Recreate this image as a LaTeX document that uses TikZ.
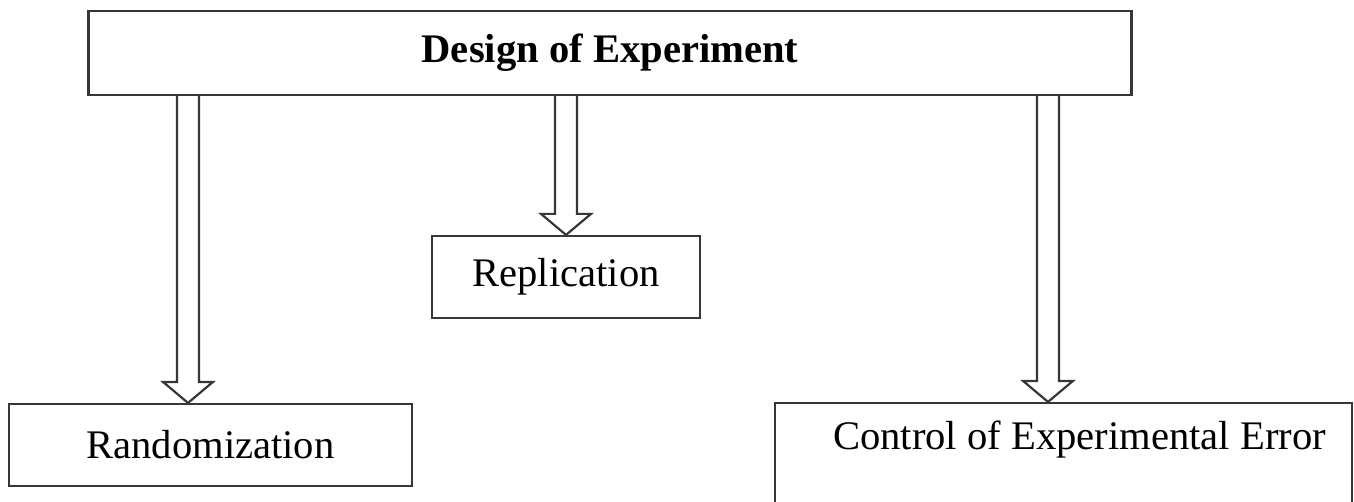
\documentclass[tikz,border=0pt]{standalone}
\usepackage{fontspec}
\setmainfont{Liberation Serif}
\usepackage{tikz}
\usetikzlibrary{positioning,calc}
\definecolor{edge}{RGB}{55,55,55}

\begin{document}
\begin{tikzpicture}[x=0.5pt, y=-0.5pt,
  box/.style={draw=edge, line width=1.1pt, inner sep=0pt,
              font=\fontsize{20.3}{24}\selectfont},
  title/.style={box, font=\fontsize{20.3}{24}\selectfont\bfseries},
  blk/.style={draw=edge, line width=1.1pt, fill=white, line join=miter}]
\useasboundingbox (0,0) rectangle (1354,502);
\node[title, minimum width=521.5pt, minimum height=42pt] (doe) at (610,53) {Design of Experiment};
\node[box, minimum width=201.5pt, minimum height=41pt] (rand) at (210.5,445) {Randomization};
\node[box, minimum width=134pt, minimum height=41pt] (repl) at (566,277) {Replication};
\node[box, minimum width=288.5pt, minimum height=51pt,
      label={[box, draw=none, xshift=8pt, yshift=7pt]center:Control of Experimental Error}]
      (ctrl) at (1063.5,454) {};
% hollow block arrows from the title box down to each box
\def\blockarrow#1#2{%
  \coordinate (root) at (#1,0 |- doe.south);
  \coordinate (tip) at (#1,0 |- #2.north);
  \draw[blk] ($(root)+(-11,0)$) -- ($(tip)+(-11,-21)$) -- ($(tip)+(-25,-21)$)
    -- (tip) -- ($(tip)+(25,-21)$) -- ($(tip)+(11,-21)$) -- ($(root)+(11,0)$);}
\blockarrow{188}{rand}
\blockarrow{566}{repl}
\blockarrow{1048}{ctrl}
\end{tikzpicture}
\end{document}
